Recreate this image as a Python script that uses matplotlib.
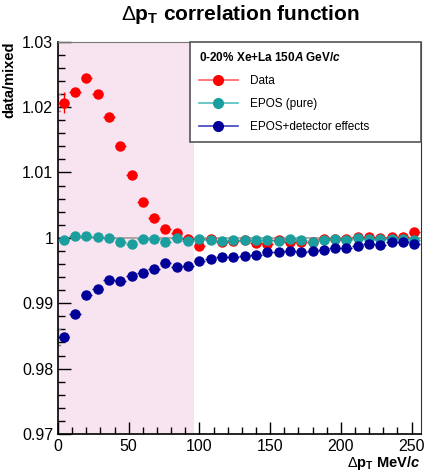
import matplotlib
matplotlib.use("Agg")
import matplotlib.pyplot as plt
import numpy as np
from matplotlib.ticker import MultipleLocator
from matplotlib.lines import Line2D

plt.rcParams['font.family'] = ['Liberation Sans', 'DejaVu Sans']
plt.rcParams['mathtext.fontset'] = 'custom'
plt.rcParams['mathtext.rm'] = 'Liberation Sans'
plt.rcParams['mathtext.it'] = 'Liberation Sans:italic:bold'
plt.rcParams['mathtext.bf'] = 'Liberation Sans:bold'

# bin centres (MeV/c), 8 MeV/c bins
dpt = np.arange(4, 256, 8)

data = [1.0207, 1.0223, 1.0245, 1.0220, 1.0185, 1.0141, 1.0096, 1.0055,
        1.0030, 1.0013, 1.0007, 0.9999, 0.9987, 0.9998, 0.9993, 0.9995,
        0.9997, 0.9992, 0.9990, 0.9996, 0.9994, 0.9994, 0.9994, 0.9998,
        0.9999, 0.9998, 1.0002, 1.0002, 1.0000, 1.0002, 1.0002, 1.0009]
data_err = [0.0016, 0.0006, 0.0004, 0.0003, 0.0003, 0.0003, 0.0002, 0.0002,
            0.0002, 0.0002, 0.0002, 0.0002, 0.0002, 0.0002, 0.0002, 0.0002,
            0.0002, 0.0002, 0.0002, 0.0002, 0.0002, 0.0002, 0.0002, 0.0002,
            0.0002, 0.0002, 0.0002, 0.0002, 0.0002, 0.0002, 0.0002, 0.0002]

epos = [0.9996, 1.0003, 1.0003, 1.0002, 1.0000, 0.9994, 0.9990, 0.9998,
        0.9998, 0.9994, 1.0000, 0.9995, 0.9999, 0.9996, 0.9995, 0.9996,
        0.9997, 0.9997, 0.9996, 0.9995, 0.9998, 0.9996, 0.9994, 0.9997,
        0.9998, 0.9996, 1.0000, 0.9999, 0.9998, 0.9999, 0.9999, 0.9997]

epos_det = [0.9848, 0.9884, 0.9912, 0.9922, 0.9936, 0.9934, 0.9941, 0.9946,
            0.9952, 0.9961, 0.9956, 0.9957, 0.9965, 0.9968, 0.9970, 0.9971,
            0.9973, 0.9974, 0.9978, 0.9978, 0.9980, 0.9979, 0.9980, 0.9982,
            0.9985, 0.9985, 0.9988, 0.9990, 0.9989, 0.9993, 0.9993, 0.9991]

# systematic bracket on the first bin
sys_first = {'data': 0.0013, 'epos_det': 0.0012}

fig = plt.figure(figsize=(4.25, 4.72), dpi=100)
ax = fig.add_axes([58/425, 1 - 434/472, 362.7/425, 392.3/472])

# shaded low-dpT region
ax.axvspan(0, 96, color='#f8e4f0', zorder=0, lw=0)
ax.axhline(1.0, color='#a89898', lw=1.2, zorder=1)

red, teal, navy = '#ff0000', '#1a9e9e', '#000099'
xerr = 4
ax.errorbar(dpt, data, yerr=data_err, xerr=xerr, fmt='o', color=red,
            ms=6.5, elinewidth=1, capsize=0, zorder=3)
ax.errorbar(dpt, epos, yerr=0.0002, xerr=xerr, fmt='o', color=teal,
            ms=6.5, elinewidth=1, capsize=0, zorder=4)
ax.errorbar(dpt, epos_det, yerr=0.0002, xerr=xerr, fmt='o', color=navy,
            ms=6.5, elinewidth=1, capsize=0, zorder=5)

# brackets for systematic uncertainty of first bin
for val, s, c in [(data[0], sys_first['data'], '#c08080'),
                  (epos_det[0], sys_first['epos_det'], '#8080a0')]:
    ax.plot([dpt[0] - 2.5, dpt[0] - 4, dpt[0] - 4, dpt[0] - 2.5],
            [val - s, val - s, val + s, val + s], color=c, lw=1, zorder=2,
            clip_on=False)

ax.set_xlim(0, 256.5)
ax.set_ylim(0.97, 1.03)
ax.xaxis.set_major_locator(MultipleLocator(50))
ax.xaxis.set_minor_locator(MultipleLocator(10))
ax.yaxis.set_minor_locator(MultipleLocator(0.002))
ax.set_yticks([0.97, 0.98, 0.99, 1.0, 1.01, 1.02, 1.03])
ax.set_yticklabels(['0.97', '0.98', '0.99', '1', '1.01', '1.02', '1.03'])
ax.tick_params(which='both', direction='in', top=False, right=False,
               labelsize=11.5, color='black')
ax.tick_params(which='major', length=9, width=1)
ax.tick_params(which='minor', length=5, width=1)
for s in ['left', 'bottom']:
    ax.spines[s].set_linewidth(1.2)
ax.spines['right'].set_color('#333333')
ax.spines['top'].set_color('#777777')

fig.text(240/425, 1 - 15/472, r'$\Delta$p$_{\mathbf{T}}$ correlation function',
         ha='center', va='center', fontsize=15, fontweight='bold')
ax.set_ylabel('data/mixed', fontsize=10.5, fontweight='bold', loc='top')
ax.set_xlabel(r'$\Delta$p$_{\mathbf{T}}$ MeV/$\mathit{c}$', fontsize=10.5,
              fontweight='bold', loc='right', labelpad=0)

handles = [Line2D([], [], color=c, lw=1.2, marker='o', ms=7, alpha=1,
                  markerfacecolor=c, markeredgecolor=c)
           for c in (red, teal, navy)]
for h, lc in zip(handles, ['#ff6060', '#50c0c0', '#4040c0']):
    h.set_color(lc)
    h.set_markerfacecolor(h.get_markeredgecolor())
labels = ['Data', 'EPOS (pure)', 'EPOS+detector effects']
leg = ax.legend(handles, labels, loc='upper left',
                bbox_to_anchor=(0.364, 1.0, 0.636, 0.0), mode='expand',
                title=r'0-20% Xe+La 150$\mathit{A}$ GeV/$\mathit{c}$',
                fontsize=8.5, frameon=True, fancybox=False,
                borderaxespad=0, handlelength=3.3, labelspacing=0.95,
                handletextpad=1.0, borderpad=0.75, alignment='left')
leg.get_title().set_fontweight('bold')
leg.get_title().set_fontsize(8.5)
leg.get_frame().set_edgecolor('#555555')
leg.get_frame().set_linewidth(1.2)
leg.get_frame().set_alpha(1)

fig.savefig('out.png', dpi=100)
